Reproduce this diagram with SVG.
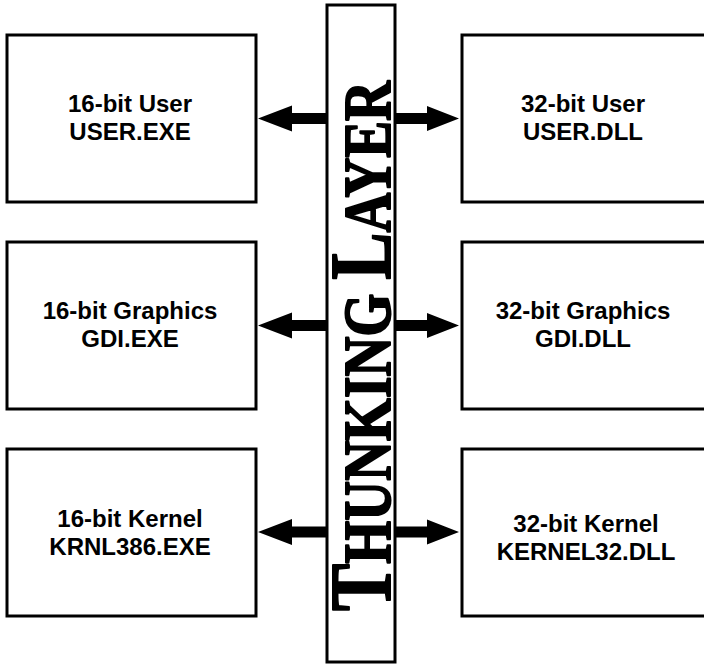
<svg xmlns="http://www.w3.org/2000/svg" width="704" height="665" viewBox="0 0 704 665">
<style>
.box{fill:#fff;stroke:#000;stroke-width:3}
.lbl{font-family:"Liberation Sans",Arial,sans-serif;font-weight:bold;font-size:24px;fill:#000;text-anchor:middle}
.arrow{fill:#000;stroke:none}
.thunk{font-family:"Liberation Serif","Times New Roman",serif;font-weight:bold;fill:#000;stroke:#000;stroke-width:2;stroke-linejoin:round}
</style>
<rect width="704" height="665" fill="#fff"/>
<g id="user16"><rect class="box" x="7" y="35" width="249" height="167"/><text class="lbl" x="130" y="112">16-bit User</text><text class="lbl" x="130" y="140">USER.EXE</text></g>
<g id="gdi16"><rect class="box" x="7" y="242" width="249" height="167"/><text class="lbl" x="130" y="319">16-bit Graphics</text><text class="lbl" x="130" y="347">GDI.EXE</text></g>
<g id="kernel16"><rect class="box" x="7" y="449" width="249" height="167"/><text class="lbl" x="130" y="527">16-bit Kernel</text><text class="lbl" x="130" y="555">KRNL386.EXE</text></g>
<g id="user32"><rect class="box" x="462" y="35" width="260" height="167"/><text class="lbl" x="583" y="112">32-bit User</text><text class="lbl" x="583" y="140">USER.DLL</text></g>
<g id="gdi32"><rect class="box" x="462" y="242" width="260" height="167"/><text class="lbl" x="583" y="319">32-bit Graphics</text><text class="lbl" x="583" y="347">GDI.DLL</text></g>
<g id="kernel32"><rect class="box" x="462" y="449" width="260" height="167"/><text class="lbl" x="586" y="532">32-bit Kernel</text><text class="lbl" x="586" y="560">KERNEL32.DLL</text></g>
<g id="thunking"><rect class="box" x="327" y="5" width="68" height="657"/>
<text class="thunk" transform="translate(390,611) rotate(-90)" x="0" y="0" textLength="530" lengthAdjust="spacingAndGlyphs"><tspan font-size="86">T</tspan><tspan font-size="67">HUNKING </tspan><tspan font-size="86">L</tspan><tspan font-size="67">AYER</tspan></text></g>
<g id="connectors">
<polygon class="arrow" points="258,118.5 292,105.5 292,113 327,113 327,124 292,124 292,131.5"/>
<polygon class="arrow" points="459,118.5 427,106 427,113 395,113 395,124 427,124 427,131"/>
<polygon class="arrow" points="258,325.5 292,312.5 292,320 327,320 327,331 292,331 292,338.5"/>
<polygon class="arrow" points="459,325.5 427,313 427,320 395,320 395,331 427,331 427,338"/>
<polygon class="arrow" points="258,532 292,519 292,526.5 327,526.5 327,537.5 292,537.5 292,545"/>
<polygon class="arrow" points="459,532 427,519.5 427,526.5 395,526.5 395,537.5 427,537.5 427,544.5"/>
</g>
</svg>
